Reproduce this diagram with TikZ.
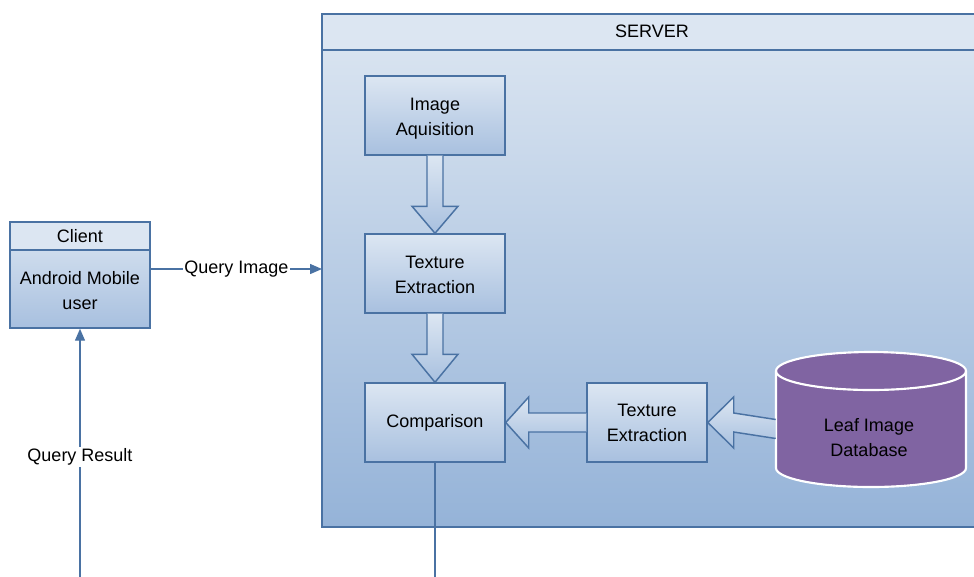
\documentclass[tikz,border=0pt]{standalone}
\usepackage{fontspec}
\setmainfont{Liberation Sans}
\usetikzlibrary{calc,arrows.meta}

\definecolor{edge}{HTML}{4A72A3}
\definecolor{paleblue}{HTML}{DCE6F2}
\definecolor{midblue}{HTML}{A8C0DF}
\definecolor{srvtop}{HTML}{D8E3F0}
\definecolor{srvbot}{HTML}{95B3D8}
\definecolor{dbfill}{HTML}{8064A2}

\tikzset{
  every node/.style={font=\fontsize{13.5}{18.75}\selectfont, align=center, text=black},
  procbox/.style={draw=edge, line width=1.1pt, top color=paleblue, bottom color=midblue,
    minimum width=105pt, minimum height=59.25pt, inner sep=0pt},
  blockarrow/.style={draw=edge, line width=1.1pt, top color=paleblue, bottom color=midblue},
  link/.style={draw=edge, line width=1.1pt},
  linkarrow/.style={link, -{Triangle[length=9pt,width=7.5pt]}},
  lbl/.style={fill=white, inner sep=1pt}
}

\begin{document}
\begin{tikzpicture}[x=0.75pt, y=-0.75pt]
\useasboundingbox (0,0) rectangle (974,576);

% server frame with its header band
\path[top color=srvtop, bottom color=srvbot] (322,50) rectangle (982,527);
\path[fill=paleblue] (322,14) rectangle (982,50);
\draw[link] (322,14) rectangle (982,527);
\draw[link] (322,50) -- (982,50);
\node (srvtitle) at (652,31) {SERVER};

% client box
\path[top color=paleblue, bottom color=midblue] (10,222) rectangle (150,328);
\path[fill=paleblue] (10,222) rectangle (150,250);
\node[draw=edge, line width=1.1pt, minimum width=105pt, minimum height=79.5pt, inner sep=0pt] (client) at (80,275) {};
\draw[link] (10,250) -- (150,250);
\node (clienttitle) at (80,236) {Client};
\node (clientbody) at (80,290.5) {Android Mobile\\user};

% processing steps (boxes, then their captions)
\node[procbox] (ia) at (435,115.5) {};
\node[procbox] (te1) at (435,273.5) {};
\node[procbox] (comp) at (435,422.5) {};
\node[procbox, minimum width=90pt] (te2) at (647,422.5) {};
\node at ($(ia)+(0,3)$) {Image\\Aquisition};
\node at ($(te1)+(0,1)$) {Texture\\Extraction};
\node at ($(comp)+(0,0.5)$) {Comparison};
\node at ($(te2)+(0,0.5)$) {Texture\\Extraction};

% database cylinder
\draw[fill=dbfill, draw=white, line width=1.6pt]
  (776,371) -- (776,468) arc[start angle=180, end angle=0, x radius=95, y radius=19]
  -- (966,371) arc[start angle=0, end angle=-180, x radius=95, y radius=19] -- cycle;
\draw[draw=white, line width=1.6pt]
  (776,371) arc[start angle=180, end angle=0, x radius=95, y radius=19];
\node[minimum width=142.5pt, minimum height=87pt, inner sep=0pt] (db) at (871,429) {};
\node at (869,437.5) {Leaf Image\\Database};

% block arrows between the steps
\draw[blockarrow]
  ($(ia.south)+(-8,0)$) -- ($(te1.north)+(-8,-27)$) -- ($(te1.north)+(-23,-27)$)
  -- (te1.north) -- ($(te1.north)+(23,-27)$) -- ($(te1.north)+(8,-27)$)
  -- ($(ia.south)+(8,0)$);
\draw[blockarrow]
  ($(te1.south)+(-8,0)$) -- ($(comp.north)+(-8,-28)$) -- ($(comp.north)+(-23,-28)$)
  -- (comp.north) -- ($(comp.north)+(23,-28)$) -- ($(comp.north)+(8,-28)$)
  -- ($(te1.south)+(8,0)$);
\draw[blockarrow]
  ($(te2.west)+(0,-9.5)$) -- ($(comp.east)+(23,-9.5)$) -- ($(comp.east)+(23,-25.5)$)
  -- (comp.east) -- ($(comp.east)+(23,25.5)$) -- ($(comp.east)+(23,9.5)$)
  -- ($(te2.west)+(0,9.5)$);
\draw[blockarrow]
  ($(db.west)+(0,-9.5)$) -- ($(te2.east)+(26,-9.5)$) -- ($(te2.east)+(26,-25.5)$)
  -- (te2.east) -- ($(te2.east)+(26,25.5)$) -- ($(te2.east)+(26,9.5)$)
  -- ($(db.west)+(0,9.5)$);

% connectors to and from the client
\coordinate (srvin) at (322,269);
\draw[linkarrow] (client.east |- srvin) -- node[lbl] {Query Image} (srvin);

\coordinate (resultin) at (80,580);
\draw[linkarrow] (resultin) -- node[lbl, pos=0.49] {Query Result} (client.south);

\coordinate (compout) at (435,580);
\draw[link] (comp.south) -- (compout);
\end{tikzpicture}
\end{document}
